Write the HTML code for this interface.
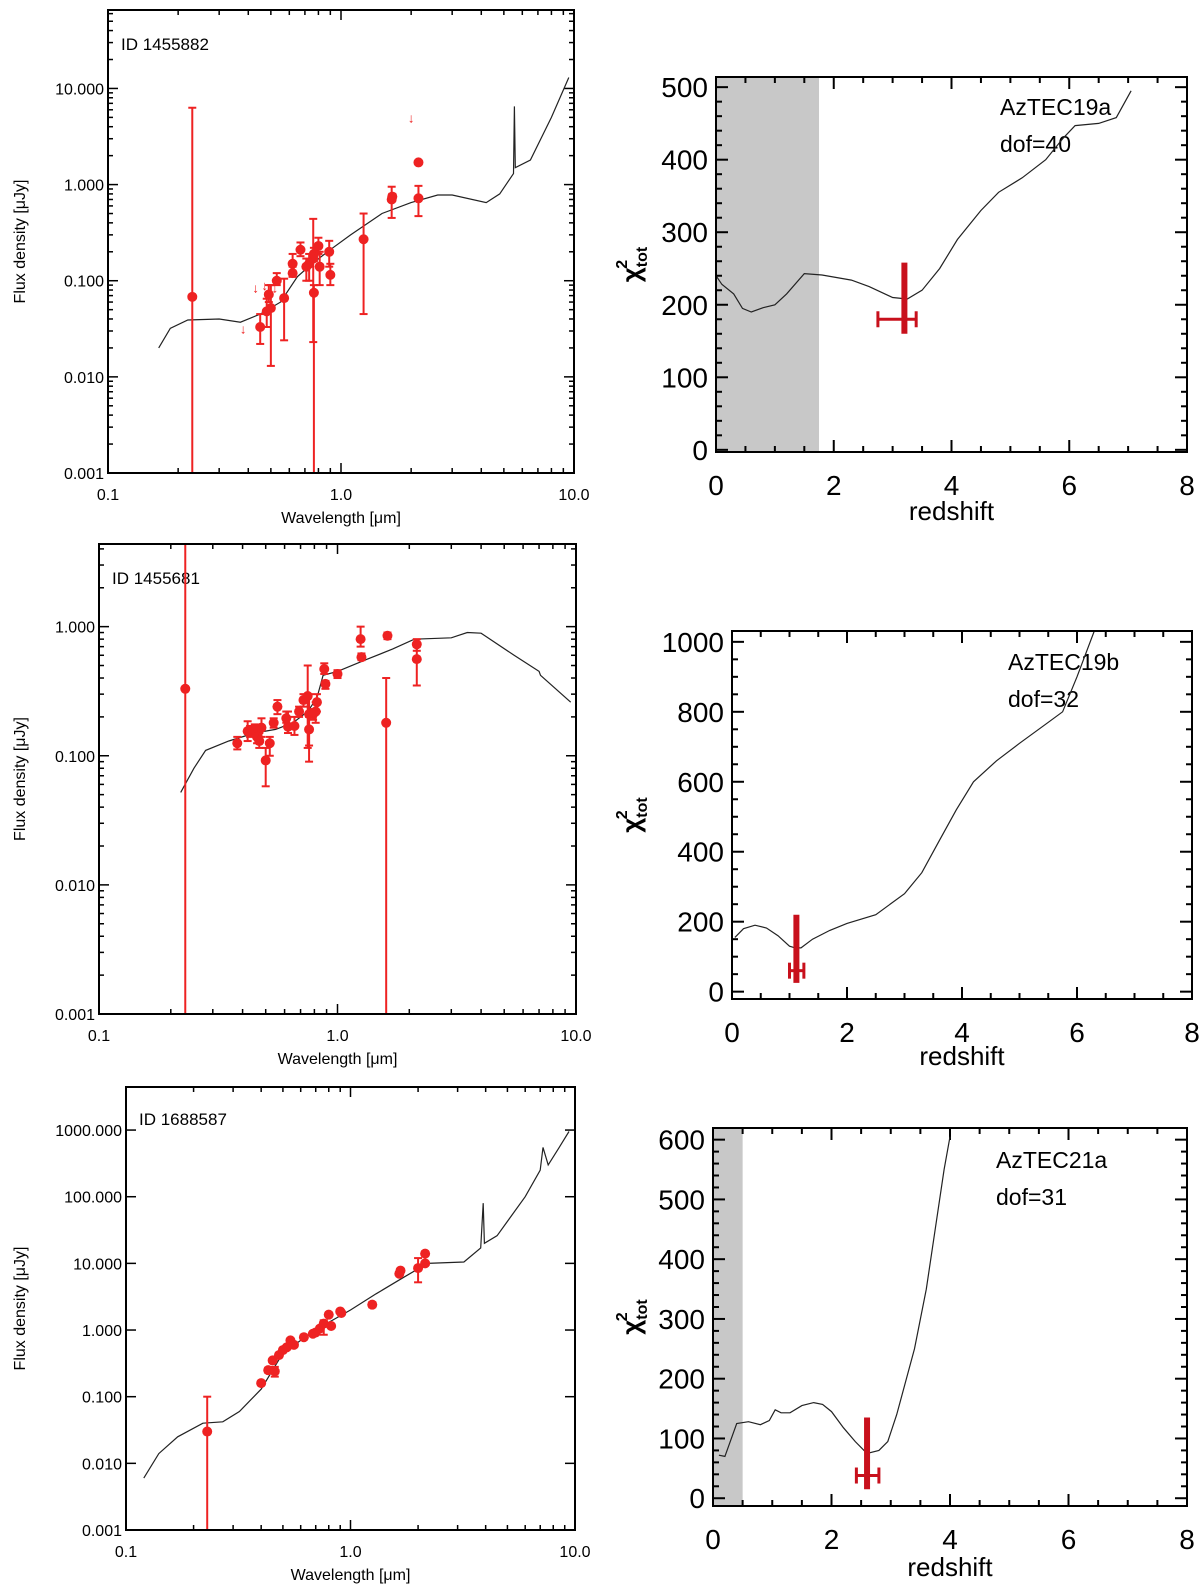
<!DOCTYPE html>
<html><head><meta charset="utf-8"><style>
html,body{margin:0;padding:0;background:#fff;}
svg{display:block;font-family:"Liberation Sans","DejaVu Sans",sans-serif;}
</style></head><body>
<svg id="fig" width="1200" height="1586" viewBox="0 0 1200 1586" xmlns="http://www.w3.org/2000/svg"></svg>
<script>
// ---------- Panel 1: ID 1455882 ----------
const p1Wave = [0.23,0.45,0.48,0.49,0.50,0.53,0.57,0.62,0.62,0.67,0.71,0.73,0.76,0.765,0.765,0.80,0.81,0.89,0.90,1.25,1.65,1.66,2.15,2.15];
const p1Flux = [0.068,0.033,0.048,0.072,0.052,0.10,0.066,0.15,0.12,0.21,0.14,0.15,0.17,0.19,0.075,0.23,0.14,0.20,0.115,0.27,0.70,0.75,1.7,0.72];
const p1Lo   = [0.001,0.022,0.033,0.06,0.013,0.09,0.024,0.11,0.11,0.18,0.10,0.10,0.023,0.16,0.001,0.19,0.09,0.14,0.09,0.045,0.45,0.7,1.7,0.47];
const p1Hi   = [6.3,0.045,0.065,0.09,0.09,0.12,0.105,0.19,0.14,0.25,0.17,0.19,0.44,0.22,0.09,0.28,0.20,0.26,0.15,0.5,0.95,0.8,1.7,0.97];
const p1LimWave = [0.38,0.43,0.47,0.52,2.0];
const p1LimFlux = [0.032,0.085,0.09,0.085,5.0];
const p1CurveW = [0.165,0.185,0.22,0.3,0.37,0.45,0.55,0.65,0.75,0.9,1.1,1.5,2.0,2.6,3.0,4.2,4.8,5.5,5.55,5.6,6.5,8,9.5];
const p1CurveF = [0.02,0.032,0.039,0.040,0.037,0.045,0.06,0.11,0.15,0.21,0.3,0.5,0.65,0.78,0.78,0.65,0.8,1.3,6.5,1.5,1.8,5,13];
const p1YTicks = ["0.001","0.010","0.100","1.000","10.000"];
// ---------- Panel 3: ID 1455681 ----------
const p3Wave = [0.23,0.38,0.42,0.43,0.45,0.46,0.47,0.48,0.50,0.52,0.54,0.56,0.61,0.62,0.66,0.69,0.72,0.75,0.76,0.76,0.79,0.81,0.82,0.88,0.89,1.0,1.25,1.26,1.62,1.60,2.15,2.15];
const p3Flux = [0.33,0.125,0.155,0.155,0.16,0.14,0.13,0.165,0.092,0.125,0.18,0.24,0.195,0.168,0.17,0.22,0.27,0.29,0.21,0.16,0.21,0.22,0.26,0.47,0.36,0.43,0.8,0.58,0.85,0.18,0.73,0.56];
const p3Lo   = [0.0009,0.112,0.13,0.14,0.145,0.125,0.115,0.14,0.058,0.1,0.165,0.21,0.18,0.15,0.145,0.2,0.24,0.115,0.09,0.12,0.19,0.18,0.22,0.43,0.33,0.4,0.7,0.55,0.8,0.0009,0.65,0.35];
const p3Hi   = [5.0,0.14,0.185,0.17,0.175,0.155,0.15,0.195,0.115,0.14,0.195,0.27,0.22,0.22,0.2,0.24,0.3,0.5,0.3,0.2,0.23,0.26,0.3,0.52,0.38,0.46,1.0,0.62,0.9,0.4,0.8,0.7];
const p3CurveW = [0.22,0.25,0.28,0.35,0.45,0.55,0.65,0.75,0.82,0.87,1.0,1.3,1.7,2.1,3.0,3.5,4.0,5.5,7,7.1,9.5];
const p3CurveF = [0.052,0.08,0.11,0.13,0.15,0.16,0.18,0.22,0.28,0.42,0.45,0.55,0.67,0.8,0.82,0.9,0.89,0.6,0.45,0.42,0.26];
const p3YTicks = ["0.001","0.010","0.100","1.000"];
// ---------- Panel 5: ID 1688587 ----------
const p5Wave = [0.23,0.40,0.43,0.45,0.46,0.48,0.50,0.52,0.54,0.56,0.62,0.68,0.70,0.73,0.76,0.80,0.82,0.90,0.91,1.25,1.65,1.67,2.0,2.15,2.15];
const p5Flux = [0.03,0.16,0.25,0.35,0.24,0.42,0.5,0.55,0.7,0.6,0.78,0.88,0.92,1.05,1.25,1.7,1.15,1.9,1.8,2.4,7.0,7.8,8.5,14,10];
const p5Lo   = [0.001,0.15,0.23,0.33,0.2,0.4,0.47,0.52,0.65,0.56,0.74,0.84,0.88,1.0,0.85,1.6,1.1,1.8,1.7,2.2,6.6,7.4,5.2,13,9.5];
const p5Hi   = [0.10,0.17,0.27,0.37,0.28,0.45,0.53,0.58,0.75,0.64,0.82,0.92,0.96,1.1,1.4,1.8,1.2,2.0,1.9,2.6,7.4,8.2,12,15,10.5];
const p5CurveW = [0.12,0.14,0.17,0.22,0.27,0.32,0.4,0.5,0.6,0.8,1.0,1.3,1.7,2.2,3.2,3.8,3.9,3.95,4.5,6,7,7.2,7.6,8.5,9.4];
const p5CurveF = [0.006,0.014,0.025,0.04,0.042,0.06,0.13,0.45,0.7,1.3,2.0,3.5,6,10,10.5,17,80,20,26,100,250,550,300,550,950];
const p5YTicks = ["0.001","0.010","0.100","1.000","10.000","100.000","1000.000"];
const xLogTicks = ["0.1","1.0","10.0"];
// ---------- Panel 2: AzTEC19a ----------
const p2Z   = [0,0.1,0.3,0.45,0.6,0.8,1.0,1.2,1.5,1.8,2.3,2.6,3.0,3.25,3.5,3.8,4.1,4.5,4.8,5.2,5.6,5.9,6.1,6.5,6.8,7.05];
const p2Chi = [240,228,215,195,190,196,200,215,243,241,234,225,210,208,220,250,290,330,355,375,400,430,447,450,458,495];
const p2Best = [3.2,160,258,180,2.75,3.4]; // z, barLow, barHigh, errY, zLow, zHigh
const p2YTicks = ["0","100","200","300","400","500"];
// ---------- Panel 4: AzTEC19b ----------
const p4Z   = [0.05,0.2,0.4,0.6,0.8,1.0,1.1,1.2,1.4,1.7,2.0,2.5,3.0,3.3,3.6,3.9,4.2,4.6,5.0,5.5,5.75,6.0,6.3];
const p4Chi = [155,180,190,182,160,130,125,125,150,175,195,220,280,340,430,520,600,660,710,770,800,900,1031];
const p4Best = [1.12,25,220,60,1.0,1.25];
const p4YTicks = ["0","200","400","600","800","1000"];
// ---------- Panel 6: AzTEC21a ----------
const p6Z   = [0.1,0.2,0.4,0.6,0.8,0.95,1.05,1.15,1.3,1.5,1.7,1.85,2.0,2.2,2.4,2.6,2.8,2.95,3.1,3.4,3.6,3.75,3.9,4.0];
const p6Chi = [72,70,125,128,123,130,148,143,143,155,160,157,145,118,95,75,80,95,140,250,350,450,550,605];
const p6Best = [2.6,15,135,38,2.42,2.8];
const p6YTicks = ["0","100","200","300","400","500","600"];
const zTicks = ["0","2","4","6","8"];

const NS="http://www.w3.org/2000/svg";
const svg=document.getElementById('fig');
function mk(tag,attrs,parent){const e=document.createElementNS(NS,tag);for(const k in attrs)e.setAttribute(k,attrs[k]);(parent||svg).appendChild(e);return e;}
const RED="#ee2222", DRED="#c8101c";

function logPanel(o){
  const g=mk('g',{});
  
  
  const lx0=-1,lx1=1;
  const X=v=>o.x0+(Math.log10(v)-lx0)/(lx1-lx0)*(o.x1-o.x0);
  const Y=v=>o.y1-(Math.log10(v)-o.ly0)/(o.ly1-o.ly0)*(o.y1-o.y0);
  const clipY=y=>Math.max(o.y0,Math.min(o.y1,y));
  // ticks
  const tk=mk('g',{stroke:'#000','stroke-width':1.5},g);
  
  
  for(let d=-1;d<1;d++){for(let m=1;m<10;m++){const v=m*Math.pow(10,d);const x=X(v);const L=m===1?10:5;
    mk('line',{x1:x,x2:x,y1:o.y1,y2:o.y1-L},tk);mk('line',{x1:x,x2:x,y1:o.y0,y2:o.y0+L},tk);}}
  for(let d=Math.ceil(o.ly0);d<=o.ly1;d++){for(let m=1;m<10;m++){if(m>1&&!o.minorY)continue;const v=m*Math.pow(10,d);if(Math.log10(v)>o.ly1)continue;const y=Y(v);const L=m===1?10:5;
    mk('line',{x1:o.x0,x2:o.x0+L,y1:y,y2:y},tk);mk('line',{x1:o.x1,x2:o.x1-L,y1:y,y2:y},tk);}}
  // tick labels
  xLogTicks.forEach((t)=>{const e=mk('text',{x:X(parseFloat(t)),y:o.y1+27,'text-anchor':'middle','font-size':16},g);e.textContent=t;
    
    });
  o.yticks.forEach((t)=>{const e=mk('text',{x:o.x0-4,y:Y(parseFloat(t))+6,'text-anchor':'end','font-size':16},g);e.textContent=t;
    
    });
  const xt=mk('text',{x:(o.x0+o.x1)/2,y:o.y1+50,'text-anchor':'middle','font-size':16},g);xt.textContent='Wavelength [μm]';
  
  
  const cy=(o.y0+o.y1)/2;
  const yt=mk('text',{x:25,y:cy,'text-anchor':'middle','font-size':16,transform:`rotate(-90 25 ${cy})`},g);yt.textContent='Flux density [μJy]';
  
  
  const id=mk('text',{x:o.idx,y:o.idy,'font-size':17},g);id.textContent=o.id;
  
  
  // curve
  const pts=o.cw.map((w,i)=>X(w).toFixed(1)+','+clipY(Y(o.cf[i])).toFixed(1)).join(' ');
  const c=mk('polyline',{points:pts,fill:'none',stroke:'#222','stroke-width':1.2},g);
  
  
  // error bars + points
  o.w.forEach((w,i)=>{const x=X(w);const yl=clipY(Y(o.lo[i])),yh=clipY(Y(o.hi[i]));
    const eb=mk('g',{stroke:RED,'stroke-width':2},g);
    
    
    if(Math.abs(yl-yh)>2){mk('line',{x1:x,x2:x,y1:yl,y2:yh},eb);
      if(yh>o.y0+1)mk('line',{x1:x-4,x2:x+4,y1:yh,y2:yh},eb);
      if(yl<o.y1-1)mk('line',{x1:x-4,x2:x+4,y1:yl,y2:yl},eb);}
    const p=mk('circle',{cx:x,cy:Y(o.f[i]),r:5,fill:RED},g);
    
    
  });
  (o.limW||[]).forEach((w,i)=>{const e=mk('text',{x:X(w),y:Y(o.limF[i])+5,'text-anchor':'middle','font-size':13,fill:RED},g);e.textContent='↓';
    
    });
  const fr=mk('rect',{x:o.x0,y:o.y0,width:o.x1-o.x0,height:o.y1-o.y0,fill:'none',stroke:'#000','stroke-width':2},g);
  
  
}

function chiPanel(o){
  const g=mk('g',{});
  
  
  const X=v=>o.x0+v/8*(o.x1-o.x0);
  const Y=v=>o.y1-(v-o.ymin)/(o.ymax-o.ymin)*(o.y1-o.y0);
  if(o.gray){const r=mk('rect',{x:o.x0,y:o.y0,width:X(o.gray)-o.x0,height:o.y1-o.y0,fill:'#c8c8c8'},g);
    
    }
  const tk=mk('g',{stroke:'#000','stroke-width':2},g);
  
  
  for(let z=0;z<=8.001;z+=0.5){const x=X(z);const L=(Math.abs(z%2)<1e-6)?12:6;
    mk('line',{x1:x,x2:x,y1:o.y1,y2:o.y1-L},tk);mk('line',{x1:x,x2:x,y1:o.y0,y2:o.y0+L},tk);}
  for(let v=0;v<=o.ymax;v+=o.minor){const y=Y(v);const L=(v%o.major===0)?12:6;
    mk('line',{x1:o.x0,x2:o.x0+L,y1:y,y2:y},tk);mk('line',{x1:o.x1,x2:o.x1-L,y1:y,y2:y},tk);}
  zTicks.forEach(t=>{const e=mk('text',{x:X(+t),y:o.y1+43,'text-anchor':'middle','font-size':28},g);e.textContent=t;
    
    });
  o.yticks.forEach(t=>{const e=mk('text',{x:o.x0-8,y:Y(+t)+10,'text-anchor':'end','font-size':28},g);e.textContent=t;
    
    });
  const xt=mk('text',{x:(o.x0+o.x1)/2,y:o.y1+o.titleDy,'text-anchor':'middle','font-size':26},g);xt.textContent='redshift';
  
  
  const cy=(o.y0+o.y1)/2;
  const yt=mk('text',{x:640,y:cy,'text-anchor':'middle','font-size':26,'font-weight':'bold',transform:`rotate(-90 640 ${cy})`},g);
  
  
  yt.innerHTML='χ<tspan font-size="16" dy="7">tot</tspan><tspan font-size="16" dx="-22" dy="-20">2</tspan>';
  const a1=mk('text',{x:o.ax,y:o.ay,'font-size':23},g);a1.textContent=o.label;
  
  
  const a2=mk('text',{x:o.ax,y:o.ay+37,'font-size':23},g);a2.textContent=o.dof;
  
  
  const pts=o.z.map((z,i)=>X(z).toFixed(1)+','+Math.max(o.y0,Y(o.c[i])).toFixed(1)).join(' ');
  const c=mk('polyline',{points:pts,fill:'none',stroke:'#222','stroke-width':1.2},g);
  
  
  const b=o.best;
  const m=mk('g',{stroke:DRED},g);
  
  
  mk('line',{x1:X(b[0]),x2:X(b[0]),y1:Y(b[1]),y2:Y(b[2]),'stroke-width':6},m);
  mk('line',{x1:X(b[4]),x2:X(b[5]),y1:Y(b[3]),y2:Y(b[3]),'stroke-width':3},m);
  mk('line',{x1:X(b[4]),x2:X(b[4]),y1:Y(b[3])-8,y2:Y(b[3])+8,'stroke-width':3},m);
  mk('line',{x1:X(b[5]),x2:X(b[5]),y1:Y(b[3])-8,y2:Y(b[3])+8,'stroke-width':3},m);
  const fr=mk('rect',{x:o.x0,y:o.y0,width:o.x1-o.x0,height:o.y1-o.y0,fill:'none',stroke:'#000','stroke-width':2},g);
  
  
}

logPanel({name:'sed-panel-1455882',x0:108,x1:574,y0:10,y1:473,ly0:-3,ly1:1.816,minorY:true,yticks:p1YTicks,id:'ID  1455882',idx:121,idy:50,
  w:p1Wave,f:p1Flux,lo:p1Lo,hi:p1Hi,cw:p1CurveW,cf:p1CurveF,limW:p1LimWave,limF:p1LimFlux});
logPanel({name:'sed-panel-1455681',x0:99,x1:576,y0:544,y1:1014,ly0:-3,ly1:0.64,minorY:true,yticks:p3YTicks,id:'ID  1455681',idx:112,idy:584,
  w:p3Wave,f:p3Flux,lo:p3Lo,hi:p3Hi,cw:p3CurveW,cf:p3CurveF});
logPanel({name:'sed-panel-1688587',x0:126,x1:575,y0:1087,y1:1530,ly0:-3,ly1:3.646,minorY:false,yticks:p5YTicks,id:'ID  1688587',idx:139,idy:1125,
  w:p5Wave,f:p5Flux,lo:p5Lo,hi:p5Hi,cw:p5CurveW,cf:p5CurveF});
chiPanel({name:'chi2-panel-aztec19a',x0:716,x1:1187,y0:77,y1:452,ymin:-3,ymax:514,major:100,minor:20,yticks:p2YTicks,gray:1.75,
  label:'AzTEC19a',dof:'dof=40',ax:1000,ay:115,z:p2Z,c:p2Chi,best:p2Best,titleDy:68});
chiPanel({name:'chi2-panel-aztec19b',x0:732,x1:1192,y0:631,y1:999,ymin:-21,ymax:1031,major:200,minor:50,yticks:p4YTicks,gray:0,
  label:'AzTEC19b',dof:'dof=32',ax:1008,ay:670,z:p4Z,c:p4Chi,best:p4Best,titleDy:66});
chiPanel({name:'chi2-panel-aztec21a',x0:713,x1:1187,y0:1128,y1:1506,ymin:-13,ymax:619.5,major:100,minor:20,yticks:p6YTicks,gray:0.5,
  label:'AzTEC21a',dof:'dof=31',ax:996,ay:1168,z:p6Z,c:p6Chi,best:p6Best,titleDy:70});
</script>
</body></html>
